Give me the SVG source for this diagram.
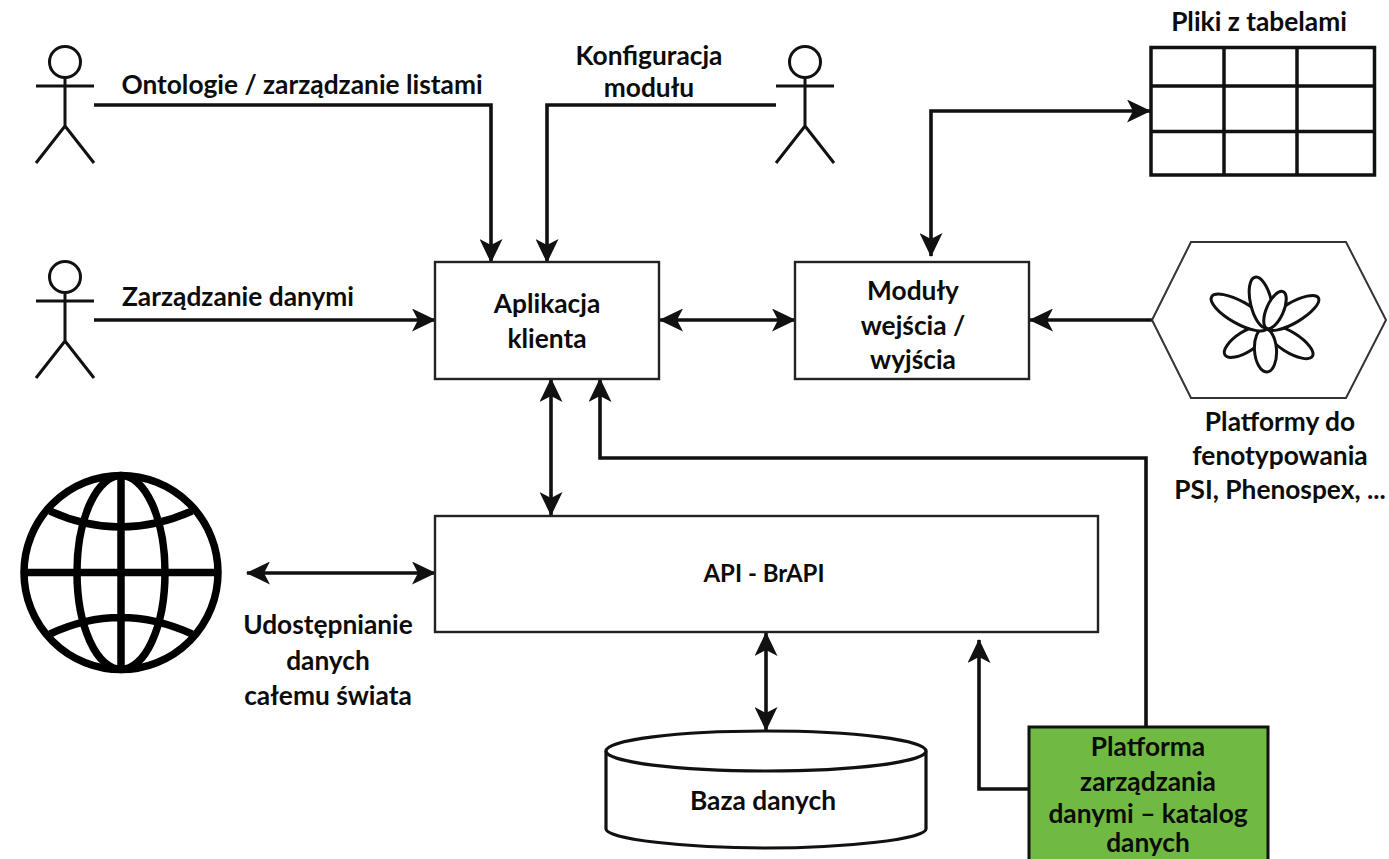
<svg xmlns="http://www.w3.org/2000/svg" width="1389" height="859" viewBox="0 0 1389 859">
<style>
.l{font-family:Lato,"Liberation Sans",sans-serif;font-weight:700;font-size:26.300px;fill:#0c0c0c;text-anchor:middle}
.api{font-size:24px}
.b{fill:#fff;stroke:#222;stroke-width:2.400}
.c{fill:none;stroke:#111;stroke-width:3.600}
.g{fill:none;stroke:#000;stroke-width:7.500}
.f{fill:#fff;stroke:#111;stroke-width:3.200}
.p{fill:#fff;stroke:#111;stroke-width:3}
</style>
<defs>
<marker id="ah" viewBox="0 0 24 23" refX="23" refY="11.500" markerWidth="24" markerHeight="23" markerUnits="userSpaceOnUse" orient="auto-start-reverse"><path d="M0 0L24 11.500L0 23L6 11.500Z" fill="#111"/></marker>
<g id="actor" fill="none" stroke="#111" stroke-width="3"><circle cx="65" cy="62" r="15.500"/><path d="M65 78V126M36 86H94M36 163L65 126L94 163"/></g>
</defs>
<rect width="1389" height="859" fill="#fff"/>
<g id="connectors">
<path class="c" marker-end="url(#ah)" d="M94 105H491V262"/>
<path class="c" marker-end="url(#ah)" d="M776 105H547V262"/>
<path class="c" marker-end="url(#ah)" d="M94 320H435"/>
<path class="c" marker-start="url(#ah)" marker-end="url(#ah)" d="M660 320H795"/>
<path class="c" marker-end="url(#ah)" d="M1152 320H1030"/>
<path class="c" marker-start="url(#ah)" marker-end="url(#ah)" d="M931 256V111H1150"/>
<path class="c" marker-start="url(#ah)" marker-end="url(#ah)" d="M551 379V515"/>
<path class="c" marker-end="url(#ah)" d="M1146 727V458H600V379"/>
<path class="c" marker-start="url(#ah)" marker-end="url(#ah)" d="M247 573H435"/>
<path class="c" marker-start="url(#ah)" marker-end="url(#ah)" d="M766 633V730"/>
<path class="c" marker-end="url(#ah)" d="M1029 789H979V640"/>
</g>
<g id="actor-ontologie"><use href="#actor"/></g>
<g id="actor-dane"><use href="#actor" y="215"/></g>
<g id="actor-konfiguracja"><use href="#actor" x="740"/></g>
<g id="aplikacja"><rect class="b" x="435" y="262" width="224" height="117"/><text class="l"><tspan x="547" y="313">Aplikacja</tspan><tspan x="547" y="348">klienta</tspan></text></g>
<g id="moduly"><rect class="b" x="795" y="262" width="234" height="117"/><text class="l"><tspan x="913" y="300">Moduły</tspan><tspan x="913" y="335">wejścia /</tspan><tspan x="913" y="369">wyjścia</tspan></text></g>
<g id="api"><rect class="b" x="435" y="516" width="663" height="116"/><text class="l api" x="764" y="582">API - BrAPI</text></g>
<g id="baza"><path class="f" d="M606 751V829C606 839 686 848 766 848S926 839 926 829V751"/><ellipse class="f" cx="766" cy="751" rx="160" ry="20"/><text class="l" x="763" y="810">Baza danych</text></g>
<g id="platforma"><rect x="1029" y="727" width="239" height="140" fill="#70ba44" stroke="#111" stroke-width="3"/><text class="l"><tspan x="1148" y="756">Platforma</tspan><tspan x="1148" y="791">zarządzania</tspan><tspan x="1148" y="823">danymi – katalog</tspan><tspan x="1148" y="852">danych</tspan></text></g>
<g id="tabele"><rect x="1151" y="47.500" width="223.500" height="127.500" fill="#fff" stroke="#111" stroke-width="3.500"/><path fill="none" stroke="#111" stroke-width="3.500" d="M1151 86H1374.500M1151 131.500H1374.500M1224 47.500V175M1297 47.500V175"/><text class="l" x="1259" y="31">Pliki z tabelami</text></g>
<g id="platformy"><path fill="#fff" stroke="#333" stroke-width="2" d="M1191 242H1346L1386 320L1346 398H1191L1152 320Z"/>
<g class="petals">
<ellipse class="p" cx="1246" cy="341.500" rx="25" ry="10" transform="rotate(-32.700 1246 341.500)"/>
<ellipse class="p" cx="1289.500" cy="342" rx="27" ry="10" transform="rotate(32 1289.500 342)"/>
<ellipse class="p" cx="1265.500" cy="350" rx="22" ry="11" transform="rotate(86 1265.500 350)"/>
<ellipse class="p" cx="1239.500" cy="312.500" rx="32" ry="11" transform="rotate(29.400 1239.500 312.500)"/>
<ellipse class="p" cx="1292.500" cy="313" rx="30" ry="10" transform="rotate(-30.500 1292.500 313)"/>
<ellipse class="p" cx="1261" cy="302.500" rx="26" ry="10.500" transform="rotate(76.800 1261 302.500)"/>
<ellipse class="p" cx="1275" cy="310" rx="20" ry="8.500" transform="rotate(-66 1275 310)"/>
</g>
<text class="l"><tspan x="1280" y="431">Platformy do</tspan><tspan x="1280" y="465">fenotypowania</tspan><tspan x="1280" y="499">PSI, Phenospex, ...</tspan></text></g>
<g id="globe"><circle class="g" cx="121" cy="572.500" r="97"/><ellipse class="g" cx="121" cy="572.500" rx="44" ry="97"/><path class="g" d="M121 476V670M24 572.500H218M50 511Q120 543 192 511M50 634Q120 601 192 634"/></g>
<g id="labels"><text class="l" x="302" y="94">Ontologie / zarządzanie listami</text>
<text class="l" x="649" y="65">Konfiguracja</text><text class="l" x="649" y="97">modułu</text>
<text class="l" x="238" y="306">Zarządzanie danymi</text>
<text class="l"><tspan x="328" y="634">Udostępnianie</tspan><tspan x="328" y="670">danych</tspan><tspan x="328" y="705">całemu świata</tspan></text></g>
</svg>
